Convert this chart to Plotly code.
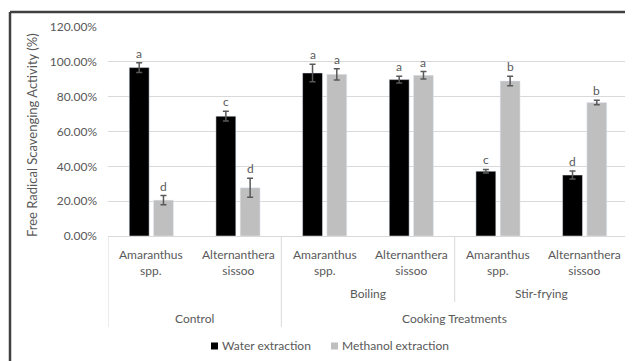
import plotly.graph_objects as go

# ---- data ----
species = ["Amaranthus<br>spp.", "Alternanthera<br>sissoo",
           "Amaranthus<br>spp.", "Alternanthera<br>sissoo",
           "Amaranthus<br>spp.", "Alternanthera<br>sissoo"]
treatments = ["Boiling", "Stir-frying"]
groups = ["Control", "Cooking Treatments"]
series_names = ["Water extraction", "Methanol extraction"]
series_colors = ["#000000", "#bfbfbf"]
water = [0.967, 0.688, 0.936, 0.898, 0.372, 0.350]
water_err = [0.028, 0.028, 0.050, 0.019, 0.010, 0.023]
water_letters = ["a", "c", "a", "a", "c", "d"]
methanol = [0.206, 0.277, 0.928, 0.923, 0.890, 0.766]
methanol_err = [0.026, 0.055, 0.032, 0.021, 0.027, 0.013]
methanol_letters = ["d", "d", "a", "a", "b", "b"]
y_ticks = [0, 0.2, 0.4, 0.6, 0.8, 1.0, 1.2]

FONT = "Lato"
GRAY_TXT = "#595959"
GRID = "#d9d9d9"

x = list(range(len(species)))

fig = go.Figure()
fig.add_trace(go.Bar(
    x=x, y=water, name=series_names[0],
    marker=dict(color=series_colors[0]),
    error_y=dict(type="data", array=water_err, color="#595959", thickness=1.5, width=3),
))
fig.add_trace(go.Bar(
    x=x, y=methanol, name=series_names[1],
    marker=dict(color=series_colors[1]),
    error_y=dict(type="data", array=methanol_err, color="#595959", thickness=1.5, width=3),
))

annotations = []
off = 0.14
for i in x:
    annotations.append(dict(x=i - off, y=water[i] + water_err[i], text=water_letters[i],
                             xref="x", yref="y", showarrow=False, yanchor="bottom",
                             font=dict(family=FONT, size=12, color=GRAY_TXT)))
    annotations.append(dict(x=i + off, y=methanol[i] + methanol_err[i], text=methanol_letters[i],
                             xref="x", yref="y", showarrow=False, yanchor="bottom",
                             font=dict(family=FONT, size=12, color=GRAY_TXT)))

# plot area in window pixels: x 108..628, y 27..236 (page body has an 8px margin)
H = 209.0
W = 520.0
def py(px):
    return (236 - px) / H
def pxp(px):
    return (px - 108) / W

for i, s in enumerate(species):
    annotations.append(dict(x=i, y=py(245), text=s, xref="x", yref="paper", showarrow=False,
                             yanchor="top", align="center",
                             font=dict(family=FONT, size=12, color=GRAY_TXT)))
for j, t in enumerate(treatments):
    annotations.append(dict(x=2.5 + 2 * j, y=py(293), text=t, xref="x", yref="paper",
                             showarrow=False, yanchor="middle",
                             font=dict(family=FONT, size=12, color=GRAY_TXT)))
annotations.append(dict(x=0.5, y=py(318), text=groups[0], xref="x", yref="paper",
                         showarrow=False, yanchor="middle",
                         font=dict(family=FONT, size=12, color=GRAY_TXT)))
annotations.append(dict(x=3.5, y=py(318), text=groups[1], xref="x", yref="paper",
                         showarrow=False, yanchor="middle",
                         font=dict(family=FONT, size=12, color=GRAY_TXT)))
annotations.append(dict(x=pxp(32), y=py(135), text="Free Radical Scavenging Activity (%)",
                         xref="paper", yref="paper", showarrow=False, textangle=-90,
                         xanchor="center", yanchor="middle",
                         font=dict(family=FONT, size=13, color=GRAY_TXT)))

shapes = []
for xv, bottom in [(-0.5, 327), (1.5, 327), (3.5, 302), (5.5, 327)]:
    shapes.append(dict(type="line", xref="x", yref="paper", x0=xv, x1=xv,
                       y0=0, y1=py(bottom), line=dict(color=GRID, width=1)))

# legend (compact, Excel style): swatch + text
leg_x = [211, 331]
for k in range(2):
    shapes.append(dict(type="rect", xref="paper", yref="paper",
                       x0=pxp(leg_x[k]), x1=pxp(leg_x[k] + 7), y0=py(342.5), y1=py(349.5),
                       line=dict(width=0), fillcolor=series_colors[k]))
    annotations.append(dict(x=pxp(leg_x[k] + 9), y=py(346), text=series_names[k],
                             xref="paper", yref="paper", showarrow=False,
                             xanchor="left", yanchor="middle",
                             font=dict(family=FONT, size=12, color=GRAY_TXT)))

# outer frame (top and left edges visible)
shapes.append(dict(type="line", xref="paper", yref="paper",
                   x0=pxp(10), x1=1.2, y0=py(12), y1=py(12),
                   line=dict(color="#404040", width=2.5)))
shapes.append(dict(type="line", xref="paper", yref="paper",
                   x0=pxp(10), x1=pxp(10), y0=py(12), y1=py(420),
                   line=dict(color="#404040", width=2.5)))

BODY = 8
fig.update_layout(
    width=633 - BODY, height=361 - BODY,
    margin=dict(l=108 - BODY, r=633 - 628, t=27 - BODY, b=361 - 236),
    paper_bgcolor="white", plot_bgcolor="white",
    barmode="group", bargap=0.44, bargroupgap=0.18,
    font=dict(family=FONT, size=12, color=GRAY_TXT),
    showlegend=False,
    annotations=annotations,
    shapes=shapes,
)
fig.update_xaxes(range=[-0.5, 5.5], showticklabels=False, showgrid=False,
                 zeroline=False, showline=True, linecolor=GRID, linewidth=1, fixedrange=True)
fig.update_yaxes(range=[0, 1.2], tickvals=y_ticks, tickformat=".2%",
                 showgrid=True, gridcolor=GRID, gridwidth=1, zeroline=False,
                 showline=False, ticks="", ticklabelstandoff=10,
                 tickfont=dict(family=FONT, size=12, color=GRAY_TXT))

fig.write_html("out.html")
